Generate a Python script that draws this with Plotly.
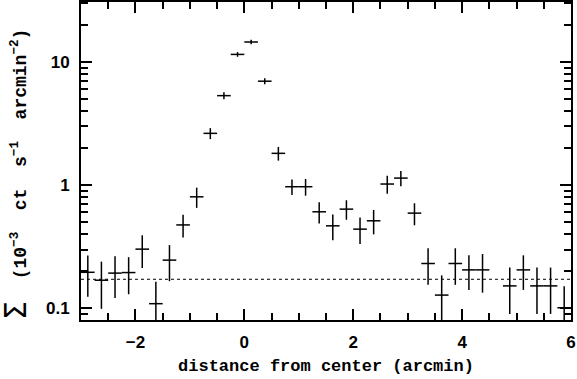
import plotly.graph_objects as go

# radial profile, 0.25 arcmin bins (bin centers)
dist = [-2.875, -2.625, -2.375, -2.125, -1.875, -1.625, -1.375, -1.125,
        -0.875, -0.625, -0.375, -0.125, 0.125, 0.375, 0.625, 0.875,
        1.125, 1.375, 1.625, 1.875, 2.125, 2.375, 2.625, 2.875,
        3.125, 3.375, 3.625, 3.875, 4.125, 4.375, 4.875, 5.125,
        5.375, 5.625, 5.875]
sigma = [0.196, 0.169, 0.193, 0.195, 0.302, 0.109, 0.246, 0.475,
         0.803, 2.63, 5.32, 11.5, 14.5, 6.97, 1.81, 0.97,
         0.97, 0.607, 0.467, 0.638, 0.439, 0.513, 1.02, 1.14,
         0.592, 0.231, 0.128, 0.231, 0.205, 0.205, 0.152, 0.205,
         0.152, 0.152, 0.101]
sigma_err = [0.072, 0.070, 0.072, 0.065, 0.090, 0.055, 0.080, 0.100,
             0.150, 0.27, 0.35, 0.5, 0.6, 0.4, 0.23, 0.14,
             0.15, 0.12, 0.11, 0.115, 0.107, 0.115, 0.17, 0.16,
             0.12, 0.076, 0.057, 0.076, 0.064, 0.071, 0.062, 0.064,
             0.062, 0.062, 0.05]
bin_half = 0.125

# background level (dotted line)
bkg_x = [-3, 6]
bkg_level = 0.172

mono = "Liberation Mono"
sans = "Liberation Sans"

fig = go.Figure()

fig.add_trace(go.Scatter(
    x=bkg_x, y=[bkg_level] * len(bkg_x),
    mode="lines",
    line=dict(color="black", width=1, dash="dot"),
    hoverinfo="skip",
))

fig.add_trace(go.Scatter(
    x=dist, y=sigma,
    mode="markers",
    marker=dict(size=1, color="black"),
    error_x=dict(type="constant", value=bin_half, width=0,
                 thickness=1.5, color="black"),
    error_y=dict(type="data", array=sigma_err, width=0,
                 thickness=1.5, color="black"),
))

fig.update_xaxes(
    range=[-3, 6],
    tickvals=[-2, 0, 2, 4, 6],
    ticktext=["\u22122", "0", "2", "4", "6"],
    ticks="inside", ticklen=11, tickwidth=1.5, tickcolor="black",
    minor=dict(dtick=0.5, ticks="inside", ticklen=7, tickwidth=1.5,
               tickcolor="black"),
    showline=True, linecolor="black", linewidth=2, mirror="allticks",
    showgrid=False, zeroline=False, automargin=False,
    tickfont=dict(family=sans, size=17, color="black", weight="bold"),
    ticklabelstandoff=6,
    title=dict(text="distance from center (arcmin)",
               font=dict(family=mono, size=17, color="black", weight="bold"),
               standoff=8),
)

fig.update_yaxes(
    type="log",
    range=[-1.095, 1.486],
    tickvals=[0.1, 1, 10],
    ticktext=["0.1", "1", "10"],
    ticks="inside", ticklen=11, tickwidth=1.5, tickcolor="black",
    minor=dict(dtick="D1", ticks="inside", ticklen=7, tickwidth=1.5,
               tickcolor="black"),
    showline=True, linecolor="black", linewidth=2, mirror="allticks",
    showgrid=False, zeroline=False, automargin=False,
    tickfont=dict(family=sans, size=17, color="black", weight="bold"),
    ticklabelstandoff=6,
)

# y title as a rotated annotation so it can sit a bit below centre
ytitle = ("<span style='font-family:DejaVu Sans;font-size:30px;font-weight:normal'>\u03a3</span>"
          "  (10<sup>\u22123</sup>  ct  s<sup>\u22121</sup>  arcmin<sup>\u22122</sup>)")
fig.add_annotation(
    text=ytitle, textangle=-90, showarrow=False,
    xref="paper", yref="paper", x=-0.135, y=0.459,
    xanchor="center", yanchor="middle",
    font=dict(family=mono, size=18, color="black", weight="bold"),
)

fig.update_layout(
    width=577, height=379,
    margin=dict(l=81, r=6, t=2, b=59),
    paper_bgcolor="white", plot_bgcolor="white",
    showlegend=False,
)

# drop the default page margin so the figure sits at the window corner
fig.write_html("out.html", config={"displayModeBar": False},
               post_script="document.body.style.margin='0';")
